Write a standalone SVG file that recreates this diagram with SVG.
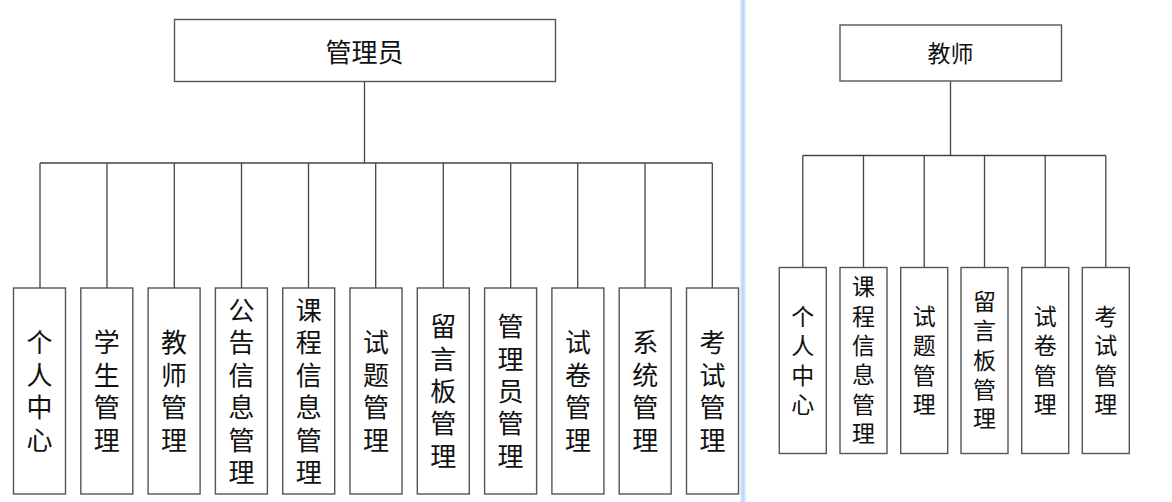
<svg xmlns="http://www.w3.org/2000/svg" width="1172" height="502" viewBox="0 0 1172 502">
<style>
.box{fill:#fff;stroke:#555;stroke-width:1.4}
.ln{fill:none;stroke:#444;stroke-width:1.3}
.t{font-family:"Noto Sans CJK SC","Noto Sans",sans-serif;fill:#111;text-anchor:middle;dominant-baseline:central}
.l{font-size:26px}
.r{font-size:23px}
</style>
<defs>
<linearGradient id="edge" x1="0" y1="0" x2="1" y2="0">
<stop offset="0" stop-color="#e6f0fd"/>
<stop offset="0.5" stop-color="#b8d4f8"/>
<stop offset="1" stop-color="#e6f0fd"/>
</linearGradient>
</defs>
<rect x="0" y="0" width="1172" height="502" fill="#fff"/>
<rect x="740" y="0" width="6" height="502" fill="url(#edge)"/>
<g id="connectors">
<path class="ln" d="M364.5 81V163M40 163H712.5"/>
<path class="ln" d="M40 163V288M107 163V288M174.3 163V288M241.5 163V288M308.5 163V288M375.7 163V288M443.3 163V288M510.7 163V288M577.7 163V288M645 163V288M712.3 163V288"/>
<path class="ln" d="M950.5 81V155.5M802.8 155.5H1105.8"/>
<path class="ln" d="M802.8 155.5V267.5M863.5 155.5V267.5M924.2 155.5V267.5M984.5 155.5V267.5M1045.2 155.5V267.5M1105.8 155.5V267.5"/>
</g>
<g id="admin"><rect class="box" x="174.5" y="19.5" width="381" height="62"/><text class="t l" x="364.5" y="50">管理员</text></g>
<g id="a1"><rect class="box" x="13.5" y="288" width="52" height="206"/><text class="t l" x="39.5"><tspan x="39.5" y="340.4">个</tspan><tspan x="39.5" y="372.8">人</tspan><tspan x="39.5" y="405.2">中</tspan><tspan x="39.5" y="437.6">心</tspan></text></g>
<g id="a2"><rect class="box" x="80.8" y="288" width="52" height="206"/><text class="t l"><tspan x="106.8" y="340.4">学</tspan><tspan x="106.8" y="372.8">生</tspan><tspan x="106.8" y="405.2">管</tspan><tspan x="106.8" y="437.6">理</tspan></text></g>
<g id="a3"><rect class="box" x="148.1" y="288" width="52" height="206"/><text class="t l"><tspan x="174.1" y="340.4">教</tspan><tspan x="174.1" y="372.8">师</tspan><tspan x="174.1" y="405.2">管</tspan><tspan x="174.1" y="437.6">理</tspan></text></g>
<g id="a4"><rect class="box" x="215.4" y="288" width="52" height="206"/><text class="t l"><tspan x="241.4" y="308">公</tspan><tspan x="241.4" y="340.4">告</tspan><tspan x="241.4" y="372.8">信</tspan><tspan x="241.4" y="405.2">息</tspan><tspan x="241.4" y="437.6">管</tspan><tspan x="241.4" y="470">理</tspan></text></g>
<g id="a5"><rect class="box" x="282.7" y="288" width="52" height="206"/><text class="t l"><tspan x="308.7" y="308">课</tspan><tspan x="308.7" y="340.4">程</tspan><tspan x="308.7" y="372.8">信</tspan><tspan x="308.7" y="405.2">息</tspan><tspan x="308.7" y="437.6">管</tspan><tspan x="308.7" y="470">理</tspan></text></g>
<g id="a6"><rect class="box" x="350" y="288" width="52" height="206"/><text class="t l"><tspan x="376" y="340.4">试</tspan><tspan x="376" y="372.8">题</tspan><tspan x="376" y="405.2">管</tspan><tspan x="376" y="437.6">理</tspan></text></g>
<g id="a7"><rect class="box" x="417.3" y="288" width="52" height="206"/><text class="t l"><tspan x="443.3" y="324.2">留</tspan><tspan x="443.3" y="356.6">言</tspan><tspan x="443.3" y="389">板</tspan><tspan x="443.3" y="421.4">管</tspan><tspan x="443.3" y="453.8">理</tspan></text></g>
<g id="a8"><rect class="box" x="484.6" y="288" width="52" height="206"/><text class="t l"><tspan x="510.6" y="324.2">管</tspan><tspan x="510.6" y="356.6">理</tspan><tspan x="510.6" y="389">员</tspan><tspan x="510.6" y="421.4">管</tspan><tspan x="510.6" y="453.8">理</tspan></text></g>
<g id="a9"><rect class="box" x="551.9" y="288" width="52" height="206"/><text class="t l"><tspan x="577.9" y="340.4">试</tspan><tspan x="577.9" y="372.8">卷</tspan><tspan x="577.9" y="405.2">管</tspan><tspan x="577.9" y="437.6">理</tspan></text></g>
<g id="a10"><rect class="box" x="619.2" y="288" width="52" height="206"/><text class="t l"><tspan x="645.2" y="340.4">系</tspan><tspan x="645.2" y="372.8">统</tspan><tspan x="645.2" y="405.2">管</tspan><tspan x="645.2" y="437.6">理</tspan></text></g>
<g id="a11"><rect class="box" x="686.5" y="288" width="52" height="206"/><text class="t l"><tspan x="712.5" y="340.4">考</tspan><tspan x="712.5" y="372.8">试</tspan><tspan x="712.5" y="405.2">管</tspan><tspan x="712.5" y="437.6">理</tspan></text></g>
<g id="teacher"><rect class="box" x="840" y="25" width="221.5" height="56"/><text class="t r" x="950.5" y="52">教师</text></g>
<g id="t1"><rect class="box" x="779.3" y="267.5" width="47" height="186"/><text class="t r"><tspan x="802.8" y="315">个</tspan><tspan x="802.8" y="344.3">人</tspan><tspan x="802.8" y="373.6">中</tspan><tspan x="802.8" y="402.9">心</tspan></text></g>
<g id="t2"><rect class="box" x="840" y="267.5" width="47" height="186"/><text class="t r"><tspan x="863.5" y="285.3">课</tspan><tspan x="863.5" y="314.6">程</tspan><tspan x="863.5" y="343.9">信</tspan><tspan x="863.5" y="373.2">息</tspan><tspan x="863.5" y="402.5">管</tspan><tspan x="863.5" y="431.8">理</tspan></text></g>
<g id="t3"><rect class="box" x="900.7" y="267.5" width="47" height="186"/><text class="t r"><tspan x="924.2" y="315">试</tspan><tspan x="924.2" y="344.3">题</tspan><tspan x="924.2" y="373.6">管</tspan><tspan x="924.2" y="402.9">理</tspan></text></g>
<g id="t4"><rect class="box" x="961" y="267.5" width="47" height="186"/><text class="t r"><tspan x="984.5" y="300">留</tspan><tspan x="984.5" y="329.3">言</tspan><tspan x="984.5" y="358.6">板</tspan><tspan x="984.5" y="387.9">管</tspan><tspan x="984.5" y="417.2">理</tspan></text></g>
<g id="t5"><rect class="box" x="1021.7" y="267.5" width="47" height="186"/><text class="t r"><tspan x="1045.2" y="315">试</tspan><tspan x="1045.2" y="344.3">卷</tspan><tspan x="1045.2" y="373.6">管</tspan><tspan x="1045.2" y="402.9">理</tspan></text></g>
<g id="t6"><rect class="box" x="1082.3" y="267.5" width="47" height="186"/><text class="t r"><tspan x="1105.8" y="315">考</tspan><tspan x="1105.8" y="344.3">试</tspan><tspan x="1105.8" y="373.6">管</tspan><tspan x="1105.8" y="402.9">理</tspan></text></g>
</svg>
